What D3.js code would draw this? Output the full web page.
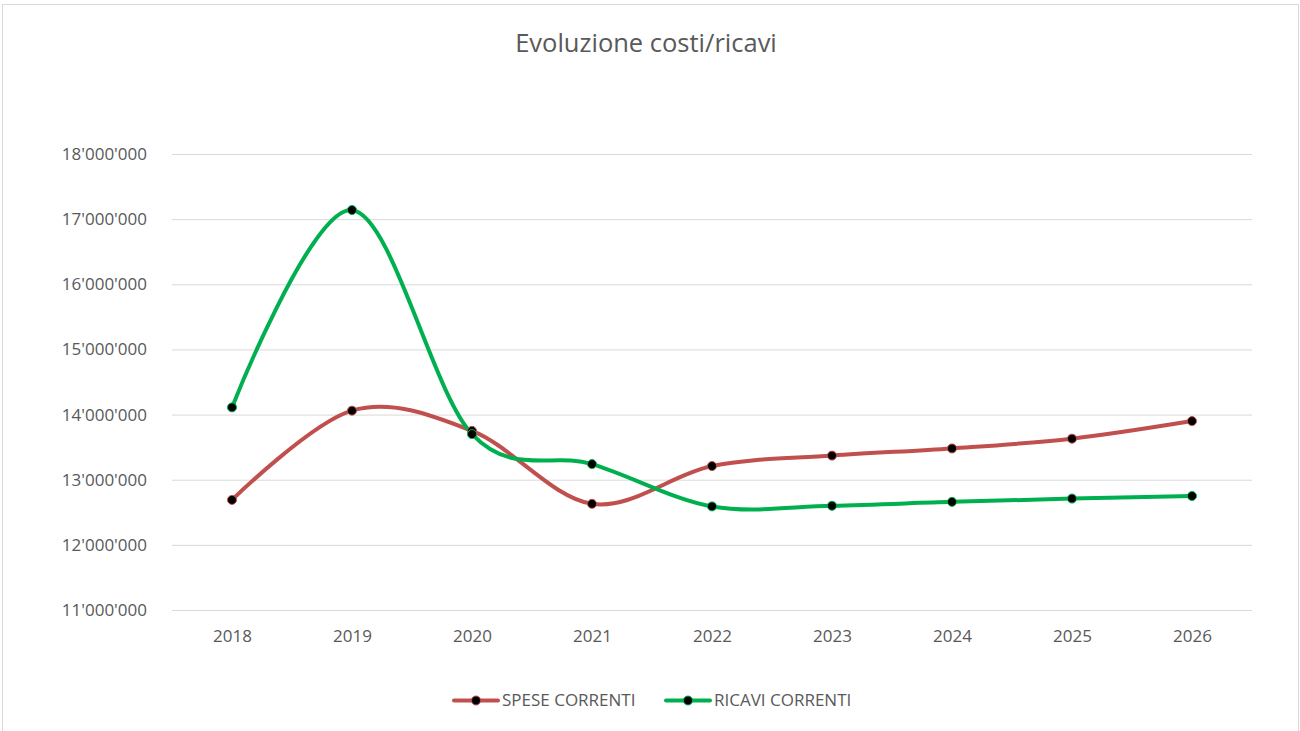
<!DOCTYPE html>
<html>
<head>
<meta charset="utf-8">
<script src="https://cdn.jsdelivr.net/npm/d3@7"></script>
<style>
	body { margin: 0; background: #fff; }
	svg { display: block; font-family: "Open Sans", sans-serif; }
</style>
</head>
<body>
<main></main>
<script>
// Data
const years = ["2018", "2019", "2020", "2021", "2022", "2023", "2024", "2025", "2026"];
const speseCorrenti = [12690000, 14060000, 13750000, 12630000, 13210000, 13370000, 13480000, 13630000, 13900000];
const ricaviCorrenti = [14110000, 17140000, 13700000, 13240000, 12590000, 12600000, 12660000, 12710000, 12750000];
const yTicks = [11000000, 12000000, 13000000, 14000000, 15000000, 16000000, 17000000, 18000000];
const seriesNames = ["SPESE CORRENTI", "RICAVI CORRENTI"];

function drawChart() {
	// Dimensions
	let dimensions = {
		width: 1300,
		height: 731,
		margin: { top: 154, right: 48, bottom: 121, left: 172 },
	};
	dimensions.boundedWidth = dimensions.width - dimensions.margin.left - dimensions.margin.right;
	dimensions.boundedHeight = dimensions.height - dimensions.margin.top - dimensions.margin.bottom;

	const textColor = "#595959";
	const fontFamily = "'Open Sans', sans-serif";

	const svg = d3.select("main")
		.append("svg")
			.attr("width", dimensions.width)
			.attr("height", dimensions.height);

	// chart frame
	svg.append("rect")
		.attr("x", 2.5)
		.attr("y", 4.5)
		.attr("width", 1296)
		.attr("height", 740)
		.attr("fill", "#fff")
		.attr("stroke", "#d9d9d9")
		.attr("stroke-width", 1);

	svg.append("text")
		.attr("x", 646)
		.attr("y", 52)
		.attr("text-anchor", "middle")
		.attr("fill", textColor)
		.style("font-size", "25.5px")
		.text("Evoluzione costi/ricavi");

	const graph = svg.append("g")
		.attr("transform", `translate(${dimensions.margin.left}, ${dimensions.margin.top})`);

	// Scales
	const xScale = d3.scalePoint()
		.domain(years)
		.range([0, dimensions.boundedWidth])
		.padding(0.5);

	const yScale = d3.scaleLinear()
		.domain([11000000, 18000000])
		.range([dimensions.boundedHeight, 0]);

	const fmt = d => d3.format(",")(d).replace(/,/g, "'");

	// Gridlines + y labels
	const yAxisGenerator = d3.axisLeft(yScale)
		.tickValues(yTicks)
		.tickSize(-dimensions.boundedWidth)
		.tickPadding(25)
		.tickFormat(fmt);

	const yAxis = graph.append("g").call(yAxisGenerator);
	yAxis.select(".domain").remove();
	yAxis.selectAll(".tick line").attr("stroke", "#d9d9d9").attr("stroke-width", 1);
	yAxis.selectAll(".tick text")
		.attr("fill", textColor)
		.style("font-size", "17px")
		.style("font-family", fontFamily);

	const xAxisGenerator = d3.axisBottom(xScale).tickSize(0).tickPadding(20);
	const xAxis = graph.append("g")
		.attr("transform", `translate(0, ${dimensions.boundedHeight})`)
		.call(xAxisGenerator);
	xAxis.select(".domain").remove();
	xAxis.selectAll(".tick text")
		.attr("fill", textColor)
		.style("font-size", "17px")
		.style("font-family", fontFamily);

	// Lines
	const series = [
		{ name: seriesNames[0], values: speseCorrenti, color: "#c0504d" },
		{ name: seriesNames[1], values: ricaviCorrenti, color: "#00b050" },
	];

	const lineGenerator = d3.line()
		.x((d, i) => xScale(years[i]))
		.y(d => yScale(d))
		.curve(d3.curveCardinal.tension(0));

	series.forEach(s => {
		graph.append("path")
			.datum(s.values)
			.attr("d", lineGenerator)
			.attr("fill", "none")
			.attr("stroke", s.color)
			.attr("stroke-width", 4)
			.attr("stroke-linecap", "round");
	});

	series.forEach(s => {
		graph.selectAll(null)
			.data(s.values)
			.enter()
			.append("circle")
			.attr("cx", (d, i) => xScale(years[i]))
			.attr("cy", d => yScale(d))
			.attr("r", 4.5)
			.attr("fill", "#000")
			.attr("stroke", s.color)
			.attr("stroke-width", 1);
	});

	// Legend
	const legendItems = [
		{ x: 454, s: series[0] },
		{ x: 666, s: series[1] },
	];
	const legendY = 700.5;
	legendItems.forEach(item => {
		const g = svg.append("g").attr("transform", `translate(${item.x}, ${legendY})`);
		g.append("line")
			.attr("x1", 0).attr("x2", 44)
			.attr("stroke", item.s.color)
			.attr("stroke-width", 4)
			.attr("stroke-linecap", "round");
		g.append("circle")
			.attr("cx", 22).attr("r", 4.5)
			.attr("fill", "#000")
			.attr("stroke", item.s.color)
			.attr("stroke-width", 1);
		g.append("text")
			.attr("x", 48)
			.attr("dy", "0.35em")
			.attr("fill", textColor)
			.style("font-size", "17px")
			.text(item.s.name);
	});
}

drawChart();
</script>
</body>
</html>
